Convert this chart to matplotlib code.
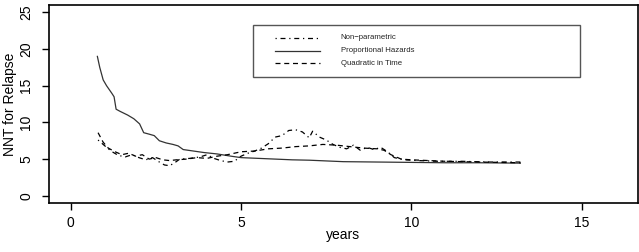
import matplotlib
matplotlib.use("Agg")
import matplotlib.pyplot as plt
from matplotlib.patches import Rectangle

plt.rcParams['font.family'] = ['Liberation Sans', 'DejaVu Sans']

# Non-parametric estimate (dash-dot)
np_years = [0.8, 0.95, 1.1, 1.25, 1.4, 1.6, 1.8, 2.0, 2.2, 2.4, 2.6, 2.75, 2.9, 3.05,
            3.2, 3.5, 3.8, 4.0, 4.2, 4.4, 4.6, 4.8, 5.0, 5.2, 5.4, 5.6, 5.8, 6.0, 6.2,
            6.4, 6.6, 6.8, 7.0, 7.1, 7.3, 7.5, 7.7, 7.9, 8.1, 8.3, 8.5, 8.7, 8.9, 9.1,
            9.3, 9.5, 9.8, 10.2, 10.8, 11.5, 12.2, 13.2]
np_nnt = [7.6, 7.0, 6.4, 5.9, 5.5, 5.3, 5.6, 5.2, 4.9, 5.2, 4.6, 4.2, 4.1, 4.5,
          5.0, 5.1, 5.3, 5.6, 5.1, 4.8, 4.6, 4.7, 5.4, 5.8, 6.1, 6.5, 7.1, 8.0, 8.2,
          8.9, 9.0, 8.7, 7.9, 8.8, 8.0, 7.6, 7.0, 6.6, 6.4, 6.9, 6.2, 6.6, 6.3, 6.6,
          6.0, 5.2, 4.9, 4.8, 4.7, 4.7, 4.6, 4.6]

# Proportional hazards model (solid)
ph_years = [0.78, 0.85, 0.95, 1.05, 1.2, 1.27, 1.33, 1.45, 1.67, 1.85, 2.02, 2.14,
            2.3, 2.45, 2.6, 2.8, 3.0, 3.15, 3.3, 3.6, 3.9, 4.3, 4.7, 5.0, 5.5, 6.0,
            6.5, 7.0, 7.5, 8.0, 9.0, 10.0, 11.0, 12.0, 13.2]
ph_nnt = [19.0, 17.5, 15.8, 15.0, 14.0, 13.5, 11.8, 11.5, 11.0, 10.5, 9.8, 8.6,
          8.4, 8.2, 7.5, 7.2, 7.0, 6.8, 6.3, 6.1, 5.9, 5.7, 5.4, 5.2, 5.1, 5.0,
          4.9, 4.85, 4.75, 4.65, 4.6, 4.55, 4.5, 4.5, 4.45]

# Quadratic in time model (dashed)
qt_years = [0.8, 0.95, 1.1, 1.3, 1.5, 1.7, 1.9, 2.1, 2.3, 2.5, 2.7, 2.9, 3.1, 3.4,
            3.7, 4.0, 4.3, 4.6, 5.0, 5.4, 5.8, 6.2, 6.6, 7.0, 7.4, 7.8, 8.2, 8.6,
            9.0, 9.2, 9.4, 9.7, 10.0, 10.5, 11.0, 12.0, 13.2]
qt_nnt = [8.6, 7.3, 6.5, 6.0, 5.6, 5.8, 5.4, 5.6, 5.0, 5.2, 4.9, 4.8, 4.9, 5.0,
          5.2, 5.1, 5.4, 5.6, 6.0, 6.1, 6.4, 6.5, 6.7, 6.8, 7.0, 6.9, 6.7, 6.5,
          6.4, 6.2, 5.6, 5.0, 4.9, 4.8, 4.7, 4.6, 4.5]

x_ticks = [0, 5, 10, 15]
y_ticks = [0, 5, 10, 15, 20, 25]
labels = ['Non\u2212parametric', 'Proportional Hazards', 'Quadratic in Time']

fig = plt.figure(figsize=(6.39, 2.52), dpi=100)
ax = fig.add_axes([0.0767, 0.194, 0.921, 0.786])

styles = [dict(color='black', dashes=(1, 3, 4, 3)),
          dict(color='#333333', linestyle='-'),
          dict(color='black', dashes=(4, 3))]

ax.plot(np_years, np_nnt, linewidth=0.9, **styles[0])
ax.plot(ph_years, ph_nnt, linewidth=0.9, **styles[1])
ax.plot(qt_years, qt_nnt, linewidth=0.9, **styles[2])

ax.set_xlim(-0.64, 16.64)
ax.set_ylim(-1, 26)
ax.set_xticks(x_ticks)
ax.set_yticks(y_ticks)
ax.tick_params(direction='out', length=5, width=1, labelsize=10)
ax.tick_params(axis='x', pad=4)
ax.tick_params(axis='y', pad=6.5)
for tl in ax.get_yticklabels():
    tl.set_rotation(90)
    tl.set_va('center')
for s in ax.spines.values():
    s.set_linewidth(1.2)
ax.set_xlabel('years', fontsize=10)
ax.set_ylabel('NNT for Relapse', fontsize=10)
ax.xaxis.set_label_coords(0.5, -0.125)
ax.yaxis.set_label_coords(-0.067, 0.5)
ax.yaxis.label.set_va('center')

# legend box, drawn the way R's legend() lays it out
ax.add_patch(Rectangle((0.3463, 0.636), 0.5552, 0.263, transform=ax.transAxes,
                       fill=False, edgecolor='#555555', linewidth=1.0))
row_y = [0.835, 0.769, 0.706]
for st, lab, yy in zip(styles, labels, row_y):
    ax.plot([0.3837, 0.4601], [yy, yy], transform=ax.transAxes, linewidth=0.9, **st)
    ax.text(0.4958, yy, lab, transform=ax.transAxes, fontsize=5.6,
            va='center', ha='left', color='#222222')

fig.savefig('out.png', dpi=100)
